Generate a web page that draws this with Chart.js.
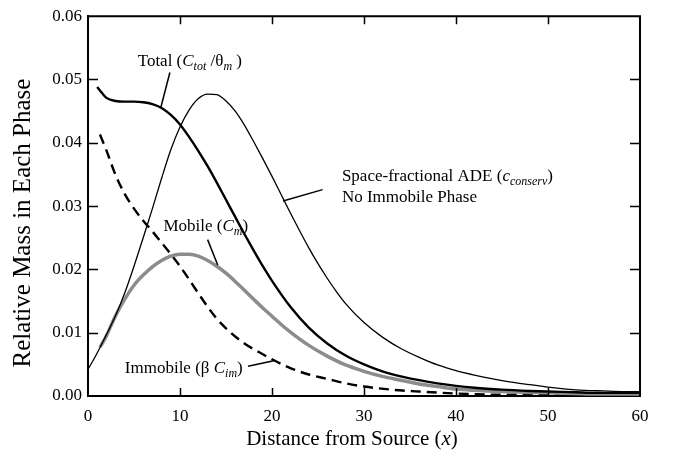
<!DOCTYPE html>
<html>
<head>
<meta charset="utf-8">
<script src="https://cdn.jsdelivr.net/npm/chart.js@4/dist/chart.umd.min.js"></script>
<style>
  body { margin: 0; background: #fff; }
  #wrap { width: 679px; height: 459px; }
</style>
</head>
<body>
<div id="wrap"><canvas id="massChart" width="679" height="459"></canvas></div>
<script>
// Space-fractional ADE, no immobile phase (thin line)
const adeX = [0, 1, 2, 3, 4, 5, 6, 7, 8, 9, 10, 11, 12, 13, 14, 15, 16, 17, 18, 19, 20, 21, 22, 23, 24, 25, 26, 27, 28, 30, 32, 34, 36, 38, 40, 42, 44, 46, 48, 50, 52, 54, 56, 58, 60];
const adeY = [0.0042, 0.0068, 0.0097, 0.0127, 0.0163, 0.0205, 0.0250, 0.0296, 0.0344, 0.0389, 0.0425, 0.0452, 0.0470, 0.0477, 0.0476, 0.0466, 0.0450, 0.0428, 0.0402, 0.0375, 0.0347, 0.0318, 0.0289, 0.0261, 0.0234, 0.0209, 0.0186, 0.0165, 0.0146, 0.0116, 0.0093, 0.0075, 0.0061, 0.0049, 0.0040, 0.0033, 0.0027, 0.0022, 0.0018, 0.0014, 0.0011, 0.0009, 0.0008, 0.0007, 0.0007];

// Total (C_tot / theta_m)
const totalX = [1, 1.5, 2, 3, 4, 5, 6, 7, 8, 9, 10, 11, 12, 13, 14, 15, 16, 17, 18, 19, 20, 22, 24, 26, 28, 30, 32, 34, 36, 38, 40, 42, 45, 48, 50, 53, 55, 60];
const totalY = [0.0488, 0.0479, 0.0471, 0.0466, 0.0465, 0.0465, 0.0464, 0.0461, 0.0455, 0.0444, 0.0429, 0.0409, 0.0387, 0.0363, 0.0337, 0.0310, 0.0283, 0.0256, 0.0230, 0.0205, 0.0182, 0.0141, 0.0108, 0.0083, 0.0064, 0.0050, 0.0039, 0.0031, 0.0025, 0.0020, 0.0016, 0.0013, 0.0010, 0.0008, 0.0007, 0.0006, 0.0005, 0.0005];

// Mobile (C_m)
const mobileX = [1.3, 2, 3, 4, 5, 6, 7, 8, 9, 10, 11, 12, 13, 14, 15, 16, 17, 18, 19, 20, 21, 22, 24, 26, 28, 30, 32, 34, 36, 38, 40, 42, 45, 50, 55, 60];
const mobileY = [0.0077, 0.0095, 0.0127, 0.0153, 0.0175, 0.0191, 0.0204, 0.0214, 0.0221, 0.0224, 0.0224, 0.0221, 0.0214, 0.0205, 0.0194, 0.0181, 0.0167, 0.0153, 0.0139, 0.0126, 0.0113, 0.0101, 0.0080, 0.0063, 0.0049, 0.0039, 0.0031, 0.0025, 0.0019, 0.0015, 0.0011, 0.0009, 0.0007, 0.0005, 0.0003, 0.0003];

// Immobile (beta C_im), dashed
const immobileX = [1.3, 2, 3, 4, 5, 6, 7, 8, 9, 10, 11, 12, 13, 14, 15, 16, 17, 18, 19, 20, 22, 24, 26, 28, 30, 33, 36, 40, 45, 50, 55, 60];
const immobileY = [0.0413, 0.0388, 0.0349, 0.0319, 0.0296, 0.0277, 0.0260, 0.0242, 0.0224, 0.0205, 0.0184, 0.0162, 0.0141, 0.0122, 0.0107, 0.0094, 0.0083, 0.0074, 0.0066, 0.0058, 0.0044, 0.0034, 0.0027, 0.0020, 0.0015, 0.0010, 0.0007, 0.0004, 0.0002, 0.0002, 0.0001, 0.0001];

const xTicks = [0, 10, 20, 30, 40, 50, 60];
const yTicks = [0.00, 0.01, 0.02, 0.03, 0.04, 0.05, 0.06];

const FONT = "'Liberation Serif', 'DejaVu Serif', serif";

function toPoints(xs, ys) {
    return xs.map((x, i) => ({ x: x, y: ys[i] }));
}

// Curve labels: text runs plus a leader line, positioned in data units
const labels = [
    {
        at: [5.4, 0.0522],
        parts: [{ t: 'Total (' }, { t: 'C', it: true }, { t: 'tot', it: true, sub: true }, { t: ' /\u03b8' }, { t: 'm', it: true, sub: true }, { t: ' )' }],
        leader: [[8.9, 0.0511], [7.9, 0.0455]]
    },
    {
        at: [27.6, 0.0339],
        parts: [{ t: 'Space-fractional ADE (' }, { t: 'c', it: true }, { t: 'conserv', it: true, sub: true }, { t: ')' }],
        leader: [[21.2, 0.0308], [25.5, 0.0326]]
    },
    {
        at: [27.6, 0.0306],
        parts: [{ t: 'No Immobile Phase' }]
    },
    {
        at: [8.2, 0.0261],
        parts: [{ t: 'Mobile (' }, { t: 'C', it: true }, { t: 'm', it: true, sub: true }, { t: ')' }],
        leader: [[13.0, 0.0247], [14.1, 0.0207]]
    },
    {
        at: [4.0, 0.0036],
        parts: [{ t: 'Immobile (\u03b2 ' }, { t: 'C', it: true }, { t: 'im', it: true, sub: true }, { t: ')' }],
        leader: [[17.4, 0.0047], [20.3, 0.0056]]
    }
];

function drawRich(ctx, x, y, parts, size) {
    let cx = x;
    parts.forEach(p => {
        const fs = p.sub ? Math.round(size * 0.7) : size;
        ctx.font = (p.it ? 'italic ' : '') + fs + 'px ' + FONT;
        ctx.fillText(p.t, cx, p.sub ? y + 4 : y);
        cx += ctx.measureText(p.t).width;
    });
}

// Frame, inward ticks, axis titles and curve labels
const decorations = {
    id: 'decorations',
    afterDraw(chart) {
        const ctx = chart.ctx;
        const xs = chart.scales.x;
        const ys = chart.scales.y;
        const a = chart.chartArea;
        ctx.save();
        ctx.strokeStyle = '#000';
        ctx.lineWidth = 2;
        ctx.beginPath();
        ctx.moveTo(a.left, a.top);
        ctx.lineTo(a.right, a.top);
        ctx.lineTo(a.right, a.bottom);
        ctx.stroke();

        ctx.lineWidth = 1.5;
        ctx.beginPath();
        xTicks.forEach(v => {
            const px = Math.round(xs.getPixelForValue(v)) + 0.5;
            if (v === xs.min || v === xs.max) return;
            ctx.moveTo(px, a.bottom); ctx.lineTo(px, a.bottom - 8);
            ctx.moveTo(px, a.top); ctx.lineTo(px, a.top + 8);
        });
        yTicks.forEach(v => {
            const py = Math.round(ys.getPixelForValue(v)) + 0.5;
            if (v === ys.min || v === ys.max) return;
            ctx.moveTo(a.left, py); ctx.lineTo(a.left + 10, py);
            ctx.moveTo(a.right, py); ctx.lineTo(a.right - 10, py);
        });
        ctx.stroke();

        ctx.fillStyle = '#000';
        ctx.textBaseline = 'alphabetic';
        ctx.textAlign = 'left';

        // x axis title
        const xParts = [{ t: 'Distance from Source (' }, { t: 'x', it: true }, { t: ')' }];
        let w = 0;
        xParts.forEach(p => {
            ctx.font = (p.it ? 'italic ' : '') + '21px ' + FONT;
            w += ctx.measureText(p.t).width;
        });
        drawRich(ctx, (a.left + a.right) / 2 - 12 - w / 2, 445, xParts, 21);

        // y axis title
        ctx.save();
        ctx.translate(30, 223);
        ctx.rotate(-Math.PI / 2);
        ctx.textAlign = 'center';
        ctx.font = '25px ' + FONT;
        ctx.fillText('Relative Mass in Each Phase', 0, 0);
        ctx.restore();

        labels.forEach(l => {
            drawRich(ctx, xs.getPixelForValue(l.at[0]), ys.getPixelForValue(l.at[1]), l.parts, 17);
            if (l.leader) {
                ctx.lineWidth = 1.5;
                ctx.beginPath();
                ctx.moveTo(xs.getPixelForValue(l.leader[0][0]), ys.getPixelForValue(l.leader[0][1]));
                ctx.lineTo(xs.getPixelForValue(l.leader[1][0]), ys.getPixelForValue(l.leader[1][1]));
                ctx.stroke();
            }
        });
        ctx.restore();
    }
};

const ctx = document.getElementById('massChart');
new Chart(ctx, {
    type: 'scatter',
    data: {
        datasets: [
            {
                label: 'Space-fractional ADE',
                data: toPoints(adeX, adeY),
                showLine: true,
                borderColor: '#000',
                borderWidth: 1.3,
                pointRadius: 0,
                cubicInterpolationMode: 'monotone'
            },
            {
                label: 'Total',
                data: toPoints(totalX, totalY),
                showLine: true,
                borderColor: '#000',
                borderWidth: 2.4,
                pointRadius: 0,
                cubicInterpolationMode: 'monotone'
            },
            {
                label: 'Mobile',
                data: toPoints(mobileX, mobileY),
                showLine: true,
                borderColor: '#8c8c8c',
                borderWidth: 3.5,
                pointRadius: 0,
                cubicInterpolationMode: 'monotone'
            },
            {
                label: 'Immobile',
                data: toPoints(immobileX, immobileY),
                showLine: true,
                borderColor: '#000',
                borderWidth: 2.4,
                borderDash: [10, 6],
                pointRadius: 0,
                cubicInterpolationMode: 'monotone'
            }
        ]
    },
    options: {
        responsive: false,
        animation: false,
        layout: { padding: { top: 10, right: 39, left: 0, bottom: 0 } },
        plugins: {
            legend: { display: false },
            tooltip: { enabled: false }
        },
        scales: {
            x: {
                type: 'linear',
                min: 0,
                max: 60,
                afterFit: scale => { scale.height = 63; },
                afterBuildTicks: scale => { scale.ticks = xTicks.map(v => ({ value: v })); },
                grid: { display: false, drawTicks: false },
                border: { display: true, color: '#000', width: 2 },
                ticks: {
                    color: '#000',
                    padding: 10,
                    font: { family: FONT, size: 17 },
                    callback: v => String(v)
                }
            },
            y: {
                type: 'linear',
                min: 0,
                max: 0.06,
                afterFit: scale => { scale.width = 88; },
                afterBuildTicks: scale => { scale.ticks = yTicks.map(v => ({ value: v })); },
                grid: { display: false, drawTicks: false },
                border: { display: true, color: '#000', width: 2 },
                ticks: {
                    color: '#000',
                    padding: 6,
                    font: { family: FONT, size: 17 },
                    callback: v => Number(v).toFixed(2)
                }
            }
        }
    },
    plugins: [decorations]
});
</script>
</body>
</html>
